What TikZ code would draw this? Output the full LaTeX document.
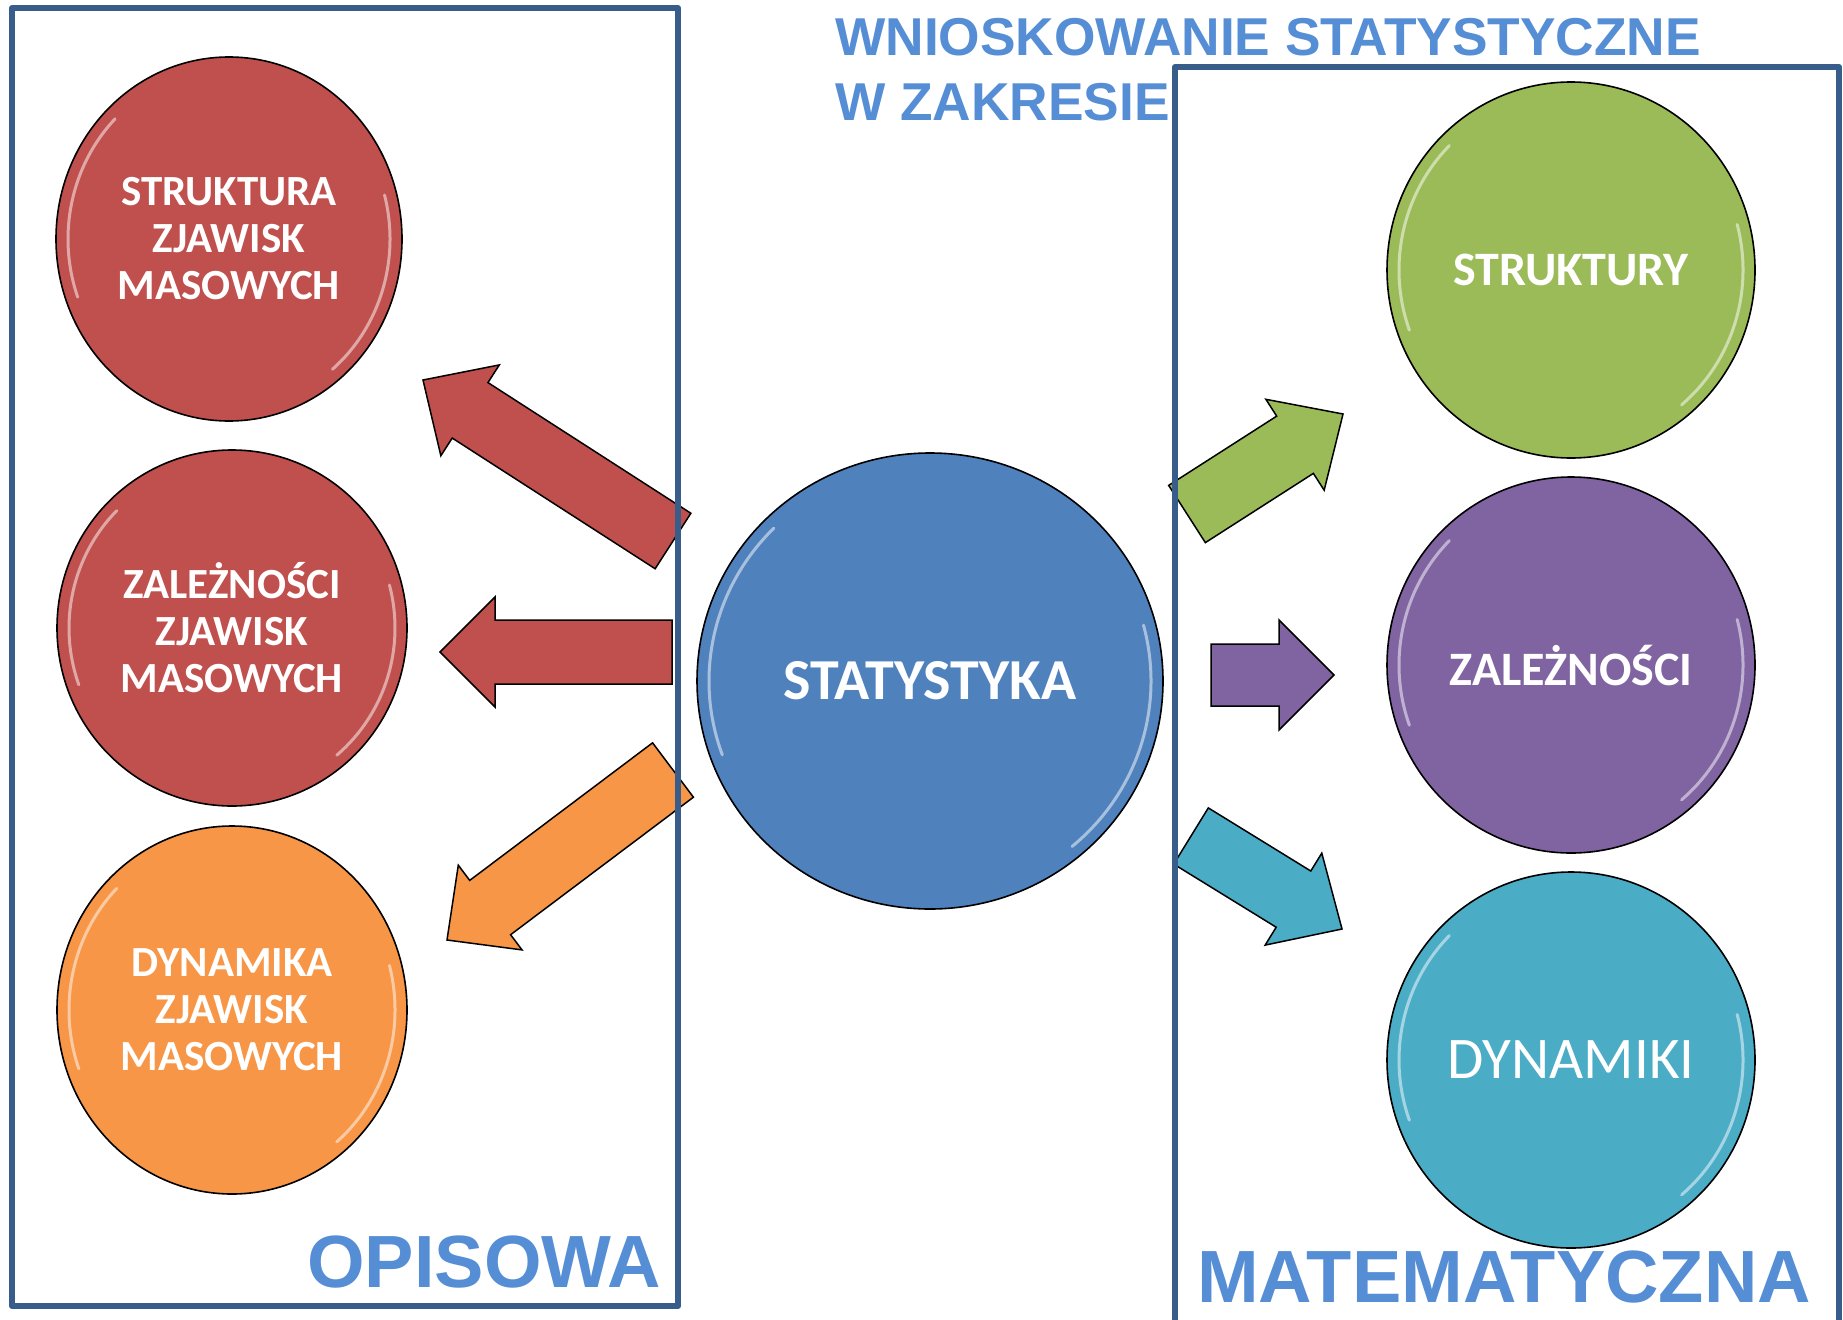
\documentclass[tikz,border=0pt]{standalone}
\usepackage{fontspec}
\setmainfont{Carlito}
\newfontfamily\arialfont{Liberation Sans}
\usetikzlibrary{shapes.geometric,calc}
\definecolor{cred}{HTML}{C0504D}
\definecolor{corange}{HTML}{F79646}
\definecolor{cblue}{HTML}{4F81BD}
\definecolor{cgreen}{HTML}{9BBB59}
\definecolor{cpurple}{HTML}{8064A2}
\definecolor{caqua}{HTML}{4BACC6}
\definecolor{boxblue}{RGB}{56,93,138}
\definecolor{titleblue}{HTML}{558ED5}
\newcommand\blockarr[6]{%
  \coordinate (#1h) at ($(#2)!#5!(#1)$);
  \draw[arr, fill=#6] ($(#1)!#3!90:(#2)$) -- ($(#1h)!#3!90:(#2)$) -- ($(#1h)!#4!90:(#2)$) -- (#2) -- ($(#1h)!#4!-90:(#2)$) -- ($(#1h)!#3!-90:(#2)$) -- ($(#1)!#3!-90:(#2)$) -- cycle;}
\newcommand\hlarcs[3]{%
  \draw[hl] ($(#1.center)+({(#2-12)*cos(160)},{(#3-12)*sin(160)})$) arc[start angle=160, end angle=225, x radius=#2-12, y radius=#3-12];
  \draw[hl] ($(#1.center)+({(#2-12)*cos(-15)},{(#3-12)*sin(-15)})$) arc[start angle=-15, end angle=50, x radius=#2-12, y radius=#3-12];}
\begin{document}
\begin{tikzpicture}[x=1pt,y=-1pt,
  circ/.style={ellipse, draw=black, line width=1.6pt, text=white, align=center, inner sep=0pt},
  lefttxt/.style={font=\bfseries\fontsize{43}{47}\selectfont},
  box/.style={draw=boxblue, line width=6pt, line join=round},
  arr/.style={draw=black, line width=1.5pt, line join=miter},
  hl/.style={white, opacity=0.5, line width=3pt, line cap=round},
  lbl/.style={text=titleblue, font=\arialfont\bfseries\fontsize{74}{80}\selectfont, anchor=base west, inner sep=0pt},
  ttl/.style={text=titleblue, font=\arialfont\bfseries\fontsize{53.3}{60}\selectfont, anchor=base west, inner sep=0pt}]
\useasboundingbox (0,0) rectangle (1843,1319);
\fill[white] (0,0) rectangle (1843,1319);

% arrows
\coordinate (a1t) at (673,541);  \coordinate (a1p) at (423,380);
\coordinate (a2t) at (672,652);  \coordinate (a2p) at (440,652);
\coordinate (a3t) at (673,770);  \coordinate (a3p) at (447,940);
\coordinate (a4t) at (1187,514); \coordinate (a4p) at (1343,414);
\coordinate (a5t) at (1211,675); \coordinate (a5p) at (1334,675);
\coordinate (a6t) at (1191,836); \coordinate (a6p) at (1342,929);
\blockarr{a1t}{a1p}{33pt}{54pt}{56pt}{cred}
\blockarr{a2t}{a2p}{32pt}{55pt}{55pt}{cred}
\blockarr{a3t}{a3p}{34pt}{53pt}{54pt}{corange}
\blockarr{a4t}{a4p}{34pt}{54pt}{57pt}{cgreen}
\blockarr{a5t}{a5p}{31pt}{55pt}{55pt}{cpurple}
\blockarr{a6t}{a6p}{33pt}{54pt}{57pt}{caqua}

% circles
\node[circ, fill=cred, minimum width=346pt, minimum height=364pt, lefttxt] (l1) at (229,239) {STRUKTURA\\ZJAWISK\\MASOWYCH};
\node[circ, fill=cred, minimum width=350pt, minimum height=356pt, lefttxt] (l2) at (232,628) {ZALEŻNOŚCI\\ZJAWISK\\MASOWYCH};
\node[circ, fill=corange, minimum width=350pt, minimum height=368pt, lefttxt] (l3) at (232,1010) {DYNAMIKA\\ZJAWISK\\MASOWYCH};
\node[circ, fill=cblue, minimum width=466pt, minimum height=456pt, font=\bfseries\fontsize{58}{62}\selectfont] (c) at (930,681) {STATYSTYKA};
\node[circ, fill=cgreen, minimum width=368pt, minimum height=376pt, font=\bfseries\fontsize{48}{54}\selectfont] (r1) at (1571,270) {STRUKTURY};
\node[circ, fill=cpurple, minimum width=368pt, minimum height=376pt, font=\bfseries\fontsize{48}{54}\selectfont] (r2) at (1571,665) {ZALEŻNOŚCI};
\node[circ, fill=caqua, minimum width=368pt, minimum height=376pt, font=\fontsize{59}{64}\selectfont] (r3) at (1571,1060) {DYNAMIKI};
\hlarcs{l1}{173}{182}
\hlarcs{l2}{175}{178}
\hlarcs{l3}{175}{184}
\hlarcs{c}{233}{228}
\hlarcs{r1}{184}{188}
\hlarcs{r2}{184}{188}
\hlarcs{r3}{184}{188}

% boxes
\draw[box] (12,8) rectangle (678,1306);
\draw[box] (1175,1340) -- (1175,67) -- (1839,67) -- (1839,1340);

% labels
\node[ttl] (t1) at (835,56) {WNIOSKOWANIE STATYSTYCZNE};
\node[ttl] (t2) at (835,121) {W ZAKRESIE};
\node[lbl] (op) at (307,1287) {OPISOWA};
\node[lbl] (ma) at (1197,1302) {MATEMATYCZNA};
\end{tikzpicture}
\end{document}
